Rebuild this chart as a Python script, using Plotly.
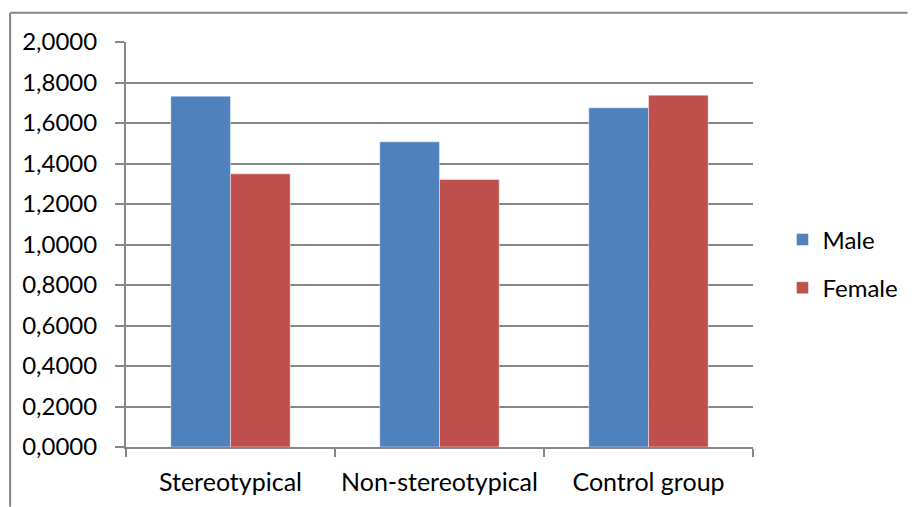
import plotly.graph_objects as go

# Mean scores by condition and gender
categories = ["Stereotypical", "Non-stereotypical", "Control group"]
male = [1.7327, 1.5070, 1.6750]
female = [1.3490, 1.3210, 1.7376]
y_ticks = [0.0, 0.2, 0.4, 0.6, 0.8, 1.0, 1.2, 1.4, 1.6, 1.8, 2.0]

BLUE = "#4F81BD"
RED = "#C0504D"
GRID = "#878787"
FONT = "Lato"

fig = go.Figure()
fig.add_trace(go.Bar(name="Male", x=categories, y=male, marker_color=BLUE,
                     marker_line=dict(color="rgba(255,255,255,0.45)", width=1),
                     legendgroup="m"))
fig.add_trace(go.Bar(name="Female", x=categories, y=female, marker_color=RED,
                     marker_line=dict(color="rgba(255,255,255,0.45)", width=1),
                     legendgroup="f"))

fig.update_layout(
    width=915, height=507,
    margin=dict(l=126, r=156, t=42, b=60),
    paper_bgcolor="white", plot_bgcolor="white",
    barmode="group", bargap=0.4286, bargroupgap=0,
    separators=",.",
    font=dict(family=FONT, size=24, color="black"),
    showlegend=True,
    legend=dict(x=1.047, y=0.452, xanchor="left", yanchor="middle",
                tracegroupgap=14, font=dict(size=24),
                bgcolor="rgba(0,0,0,0)"),
)

fig.update_xaxes(
    type="category", range=[-0.5, 2.5],
    showline=True, linecolor=GRID, linewidth=2,
    ticks="outside", tickson="boundaries", ticklen=8, tickwidth=2, tickcolor=GRID,
    showgrid=False, ticklabelstandoff=12, tickfont=dict(size=25),
)
fig.update_yaxes(
    range=[0, 2], tickvals=y_ticks, tickformat=".4f",
    showline=True, linecolor=GRID, linewidth=2,
    ticks="outside", ticklen=9, tickwidth=2, tickcolor=GRID,
    showgrid=True, gridcolor=GRID, gridwidth=2, zeroline=False,
    ticklabelstandoff=13, tickfont=dict(size=24),
)

# Chart frame (top and left edges)
fig.add_shape(type="line", xref="paper", yref="paper",
              x0=(9 - 126) / 633, x1=(915 - 126) / 633,
              y0=1 + (42.3 - 13) / 405, y1=1 + (42.3 - 13) / 405,
              line=dict(color=GRID, width=2))
fig.add_shape(type="line", xref="paper", yref="paper",
              x0=(9 - 126) / 633, x1=(9 - 126) / 633,
              y0=1 + (42.3 - 13) / 405, y1=-(507 - 447.3) / 405,
              line=dict(color=GRID, width=2))

fig.write_html("out.html")
